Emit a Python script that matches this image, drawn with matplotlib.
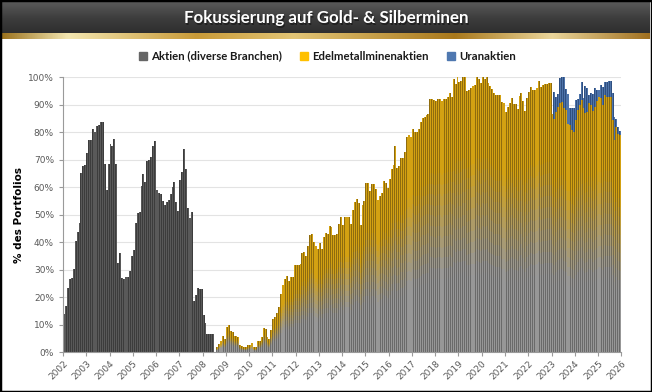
import numpy as np
import matplotlib
matplotlib.use("Agg")
import matplotlib.pyplot as plt
from matplotlib.patches import Rectangle
from matplotlib.colors import to_rgb, LinearSegmentedColormap

# ---------------- data (monthly, % of portfolio) ----------------
year_labels = [str(y) for y in range(2002, 2027)]
series_names = ["Aktien (diverse Branchen)", "Edelmetallminenaktien", "Uranaktien"]

# Aktien (diverse Branchen): Jan 2002 .. Jun 2008
aktien_vals = [
    14, 17, 23.5, 26.7, 27, 30.3, 40.6, 43.6, 47, 65.3, 67.6, 68,          # 2002
    72.6, 77.2, 77.2, 81.2, 80, 82.4, 82.7, 83.6, 83.9, 68.5, 59, 68.5,    # 2003
    75.8, 75, 77.6, 68.5, 32.4, 36, 27, 26.7, 27.3, 27.3, 29.7, 35,        # 2004
    37.3, 47, 50.5, 51, 60.5, 65, 62, 69.5, 70, 71, 75, 77,                # 2005
    59, 58, 57.5, 55, 53.5, 54.5, 55.5, 57.5, 60, 62, 54.5, 51.5,          # 2006
    62.5, 65.5, 74, 66.5, 52.5, 49, 51, 18.5, 21, 23.5, 23, 23,            # 2007
    13.5, 10.5, 6.7, 6.7, 6.7, 6.7,                                        # 2008 H1
]
# Edelmetallminenaktien: Aug 2008 .. Dec 2025
edel_vals = [
    2, 3, 4.2, 6, 4.7,                                                     # 2008 Aug-Dec
    9, 9.8, 7.9, 7.2, 6, 6, 5.7, 2.7, 2.3, 2, 2, 2.5,                      # 2009
    2.8, 3.5, 1.8, 1.8, 4.2, 4.2, 5.5, 8.7, 8.4, 5.5, 4.7, 8.1,            # 2010
    12, 12.7, 14.2, 16.4, 21.2, 24.5, 26.5, 27.7, 25.8, 27.3, 27.3, 31.8,  # 2011
    31.8, 31.8, 32, 36, 36.4, 35, 38.4, 42.7, 43, 39.9, 38.4, 37.5,        # 2012
    39.6, 37.5, 42, 43.3, 43, 45.8, 45.5, 42.5, 42.7, 43, 46.5, 49,        # 2013
    46, 49, 49, 49, 46.5, 51.5, 54.5, 55.5, 54, 46, 53.6, 55,              # 2014
    61.5, 61.5, 58.4, 61.2, 61.2, 59.2, 55.3, 56.8, 57.8, 62, 61.5, 59.6,  # 2015
    63, 66.5, 68, 75, 67, 67.5, 70.5, 70.5, 72.5, 78, 79, 78,              # 2016
    81, 80, 80, 81, 83.5, 85, 85.5, 86, 86.5, 92, 92, 91.5,                # 2017
    91, 92, 92, 91, 92, 92, 92.5, 94, 92.7, 99, 97.2, 100,                 # 2018
    98, 98.4, 100, 100, 94.8, 95.2, 96, 96.6, 96.8, 100, 99, 97.8,         # 2019
    100, 99.3, 100, 97.6, 96.5, 95.4, 94, 93.5, 93.5, 93.2, 90.8, 90.5,    # 2020
    87.2, 89, 90.5, 92.4, 90, 90, 88.2, 93, 94.2, 91.2, 87.5, 92.4,        # 2021
    94.4, 96.4, 95.2, 95.2, 96, 98.4, 96.4, 96.8, 97.2, 97.5, 97.6, 97.6,  # 2022
    86.3, 84.7, 87.5, 89.3, 90.5, 91, 89, 88, 83, 82.7, 80.8, 80.2,        # 2023
    84.5, 88, 90, 91.8, 88.7, 86.9, 87.5, 90.5, 90, 87.9, 89.3, 91.2,      # 2024
    92.7, 92.4, 90, 93.6, 93, 93, 93, 84.5, 77.2, 82, 79.4, 79,            # 2025
]
# Uranaktien: Jan 2023 .. Dec 2025
uran_vals = [
    0, 9.8, 5.5, 4.7, 9.1, 9, 11, 7.6, 11, 6.3, 8.2, 8.8,                  # 2023
    7.3, 4, 4, 6.6, 3.9, 9.9, 8.5, 3, 4.4, 6.1, 6.7, 4.2,                  # 2024
    2.7, 4.8, 6.6, 4.8, 5.4, 5.8, 5.8, 9.7, 8.5, 3, 2.6, 1.5,              # 2025
]

n_months = 288
aktien = np.zeros(n_months); aktien[:len(aktien_vals)] = aktien_vals
edel = np.zeros(n_months); edel[79:79 + len(edel_vals)] = edel_vals[:n_months - 79]
uran = np.zeros(n_months); uran[252:252 + len(uran_vals)] = uran_vals[:n_months - 252]
x = np.arange(n_months) + 0.5

# ---------------- figure ----------------
W, H = 652, 392
fig = plt.figure(figsize=(W / 100, H / 100), dpi=100)
fig.patch.set_facecolor("white")

# title bar with gradient
tb = fig.add_axes([2 / W, 1 - 33 / H, 1 - 4 / W, 31 / H])
tb.set_axis_off()
grad = np.linspace(0, 1, 64).reshape(-1, 1)
cm_title = LinearSegmentedColormap.from_list("t", ["#5a5a5a", "#3e3e3e", "#2e2e2e"])
tb.imshow(grad, aspect="auto", cmap=cm_title, extent=(0, 1, 0, 1), origin="upper")
tb.set_xlim(0, 1); tb.set_ylim(0, 1)
title = "Fokussierung auf Gold- & Silberminen"
tb.text(0.5 + 0.002, 0.47 - 0.04, title, color="#111111",
        ha="center", va="center", fontsize=12.2, fontfamily="Lato", fontweight="bold", alpha=0.6)
tb.text(0.5, 0.47, title, color="white",
        ha="center", va="center", fontsize=12.2, fontfamily="Lato", fontweight="bold")

# gold strip
gs = fig.add_axes([2 / W, 1 - 39 / H, 1 - 4 / W, 6 / H])
gs.set_axis_off()
cm_gold = LinearSegmentedColormap.from_list("g", [
    (0.0, "#9c7420"), (0.1, "#f3e6b0"), (0.3, "#c89a38"), (0.45, "#e2c576"),
    (0.7, "#a8781c"), (0.85, "#ead59a"), (1.0, "#a07020")])
gs.imshow(np.linspace(0, 1, 256).reshape(1, -1), aspect="auto", cmap=cm_gold, extent=(0, 1, 0, 1))
gs.set_xlim(0, 1); gs.set_ylim(0, 1)

# main axes
ax = fig.add_axes([63 / W, 1 - 352.3 / H, (621.3 - 63) / W, (352.3 - 77.3) / H])
ax.set_xlim(0, n_months)
ax.set_ylim(0, 100)
ax.set_yticks(np.arange(0, 101, 10))
ax.set_yticklabels([f"{v}%" for v in range(0, 101, 10)])
ax.set_xticks(np.arange(0, n_months + 1, 12))
ax.set_xticklabels(year_labels, rotation=45, ha="right", va="top", rotation_mode="anchor")
ax.grid(axis="y", color="#e3e3e3", linewidth=0.8)
ax.set_axisbelow(True)
for s in ["top", "right"]:
    ax.spines[s].set_visible(False)
for s in ["left", "bottom"]:
    ax.spines[s].set_color("#9a9a9a")
    ax.spines[s].set_linewidth(0.8)
ax.tick_params(axis="both", colors="#9a9a9a", labelcolor="#5a5a5a", labelsize=6.5,
               length=3, width=0.8)
ax.tick_params(axis="x", pad=2)
ax.set_ylabel("% des Portfolios", fontsize=7.5, fontweight="bold", color="black", labelpad=3)

def mix(c1, c2, t):
    a, b = np.array(to_rgb(c1)), np.array(to_rgb(c2))
    return tuple(a + (b - a) * t)

# Aktien bars (solid dark gray with darker separators)
ax.bar(x, aktien, width=1.0, color="#3c3c3c", linewidth=0)
ax.bar(x, aktien, width=0.55, color="#595959", linewidth=0)

# Edelmetall bars with per-bar gradient (gray bottom -> gold top)
nseg = 24
for k in range(nseg):
    f = (k + 0.5) / nseg
    t = np.clip((f - 0.3) / 0.42, 0, 1) ** 1.2
    dark = mix("#6a6a6a", "#8f6c0e", t)
    light = mix("#979797", "#d3a112", t)
    h = edel / nseg * 1.06
    b = aktien + edel * k / nseg
    ax.bar(x, h, bottom=b, width=1.0, color=dark, linewidth=0)
    ax.bar(x, h, bottom=b, width=0.55, color=light, linewidth=0)

# Uran bars
ax.bar(x, uran, bottom=aktien + edel, width=1.0, color="#2f4f80", linewidth=0)
ax.bar(x, uran, bottom=aktien + edel, width=0.55, color="#4e74aa", linewidth=0)

# legend
handles = [Rectangle((0, 0), 1, 1, color="#666666"),
           Rectangle((0, 0), 1, 1, color="#ffc000"),
           Rectangle((0, 0), 1, 1, color="#4f78b0")]
leg = fig.legend(handles, series_names, loc="center", bbox_to_anchor=(0.502, 1 - 56 / H),
                 ncol=3, frameon=False, handlelength=0.7, handleheight=0.7,
                 handletextpad=0.35, columnspacing=1.6,
                 prop={"family": "Lato", "weight": "bold", "size": 8.2})
for t in leg.get_texts():
    t.set_color("#1a1a1a")

# outer black border
fig.add_artist(Rectangle((0, 0), 1, 1, transform=fig.transFigure, fill=False,
                         edgecolor="black", linewidth=2.5))

fig.savefig("out.png", dpi=100)
